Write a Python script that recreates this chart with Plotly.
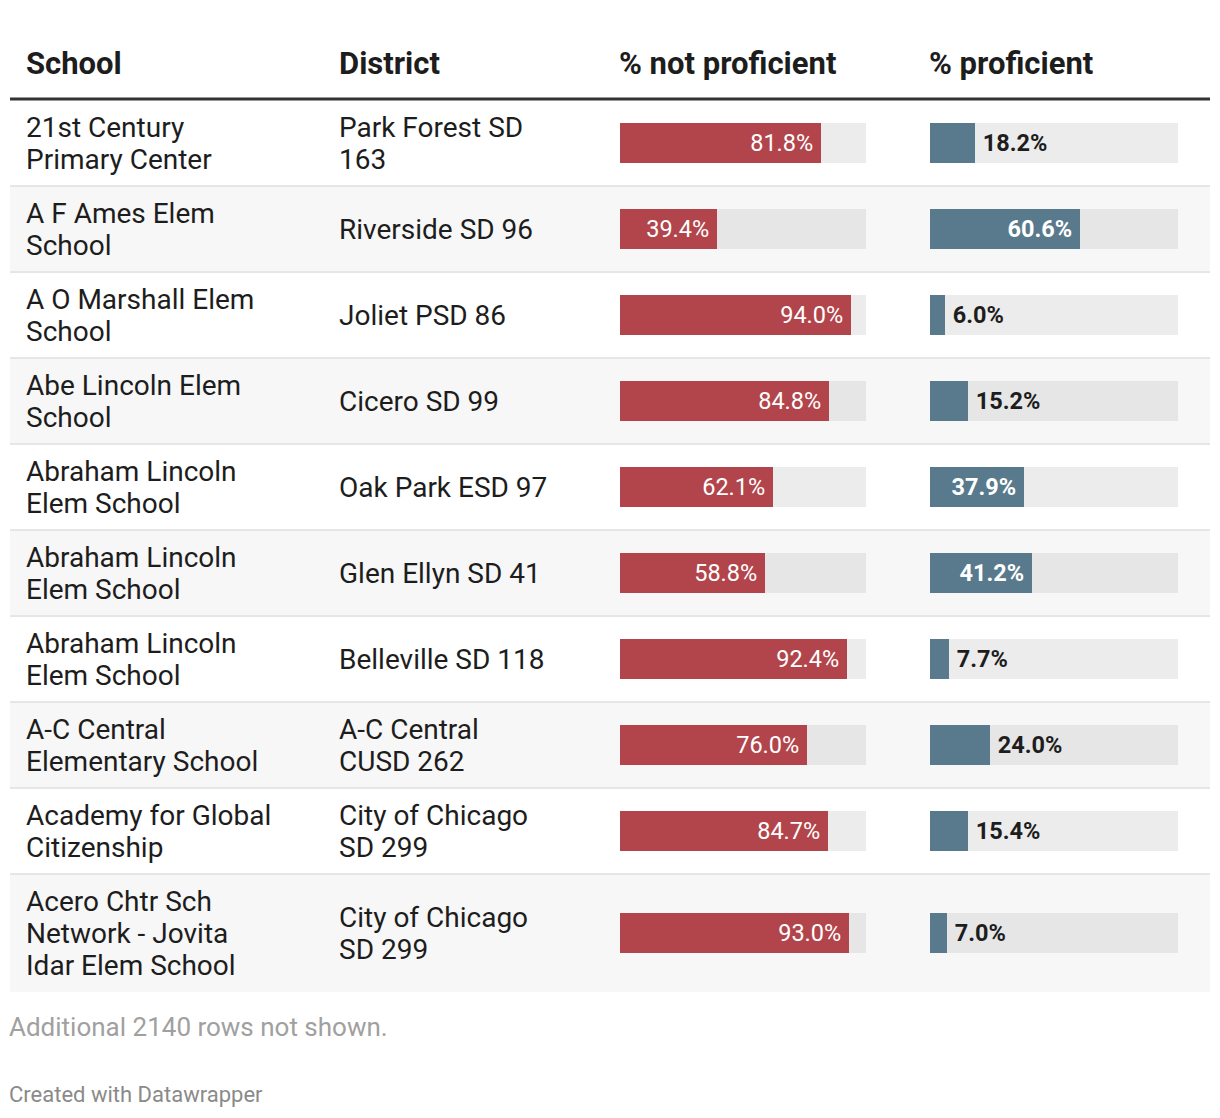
import plotly.graph_objects as go

# ---------------- data ----------------
schools = [
    "21st Century\nPrimary Center",
    "A F Ames Elem\nSchool",
    "A O Marshall Elem\nSchool",
    "Abe Lincoln Elem\nSchool",
    "Abraham Lincoln\nElem School",
    "Abraham Lincoln\nElem School",
    "Abraham Lincoln\nElem School",
    "A-C Central\nElementary School",
    "Academy for Global\nCitizenship",
    "Acero Chtr Sch\nNetwork - Jovita\nIdar Elem School",
]
districts = [
    "Park Forest SD\n163",
    "Riverside SD 96",
    "Joliet PSD 86",
    "Cicero SD 99",
    "Oak Park ESD 97",
    "Glen Ellyn SD 41",
    "Belleville SD 118",
    "A-C Central\nCUSD 262",
    "City of Chicago\nSD 299",
    "City of Chicago\nSD 299",
]
not_proficient = [81.8, 39.4, 94.0, 84.8, 62.1, 58.8, 92.4, 76.0, 84.7, 93.0]
proficient = [18.2, 60.6, 6.0, 15.2, 37.9, 41.2, 7.7, 24.0, 15.4, 7.0]
headers = ["School", "District", "% not proficient", "% proficient"]
footer_note = "Additional 2140 rows not shown."
credit = "Created with Datawrapper"

# ---------------- layout helpers ----------------
W, H = 1220, 1118
RED = "#b2454b"
BLUE = "#587a8c"
TXT = "#1d1d1d"
LEFT, RIGHT = 10, 1210
TOP = 100  # table body starts under header rule
LINE = 32
THIN = "\u2009"

def px(x):
    return x / W

bounds = []
y = TOP
for s, d in zip(schools, districts):
    n = max(s.count("\n"), d.count("\n")) + 1
    h = max(86, 22 + LINE * n)
    bounds.append((y, y + h))
    y += h
centers = [(a + b) / 2 for a, b in bounds]

fig = go.Figure()

track_colors = ["#ececec" if i % 2 == 0 else "#e6e6e6" for i in range(len(centers))]
for xa in ["x", "x2"]:
    fig.add_trace(go.Bar(
        x=[100] * len(centers), y=centers, orientation="h", width=40,
        marker=dict(color=track_colors, line=dict(width=0)),
        xaxis=xa, yaxis="y", hoverinfo="skip", showlegend=False,
    ))

fig.add_trace(go.Bar(
    x=not_proficient, y=centers, orientation="h", width=40,
    marker=dict(color=RED, line=dict(width=0)),
    text=[f"{v:.1f}%{THIN}" for v in not_proficient],
    textposition="inside", insidetextanchor="end",
    insidetextfont=dict(family="Roboto", size=23.5, color="white"),
    constraintext="none", cliponaxis=False,
    xaxis="x", yaxis="y", hoverinfo="skip", showlegend=False,
))

pos = ["inside" if v >= 30 else "outside" for v in proficient]
fig.add_trace(go.Bar(
    x=proficient, y=centers, orientation="h", width=40,
    marker=dict(color=BLUE, line=dict(width=0)),
    text=[f"<b>{v:.1f}%</b>{THIN}" if p == "inside" else f"{THIN}<b>{v:.1f}%</b>"
          for v, p in zip(proficient, pos)],
    textposition=pos, insidetextanchor="end",
    insidetextfont=dict(family="Roboto", size=23.5, color="white"),
    outsidetextfont=dict(family="Roboto", size=23.5, color=TXT),
    constraintext="none", cliponaxis=False,
    xaxis="x2", yaxis="y", hoverinfo="skip", showlegend=False,
))

shapes = []
for i, (a, b) in enumerate(bounds):
    if i % 2 == 1:
        shapes.append(dict(type="rect", xref="paper", yref="y", x0=px(LEFT), x1=px(RIGHT),
                           y0=a, y1=b, fillcolor="#f7f7f7", line=dict(width=0), layer="below"))
for i, (a, b) in enumerate(bounds[:-1]):
    shapes.append(dict(type="line", xref="paper", yref="y", x0=px(LEFT), x1=px(RIGHT),
                       y0=b, y1=b, line=dict(color="#e6e6e6", width=2), layer="below"))
shapes.append(dict(type="line", xref="paper", yref="y", x0=px(LEFT), x1=px(RIGHT),
                   y0=TOP - 1, y1=TOP - 1, line=dict(color="#333333", width=3)))

annotations = []

def add_text(t, x, yc, size, color, bold=False):
    annotations.append(dict(text=f"<b>{t}</b>" if bold else t, x=px(x - 3), xref="paper",
                            y=yc, yref="y", xanchor="left", yanchor="middle", showarrow=False,
                            font=dict(family="Roboto", size=size, color=color)))

col_x = [27, 340, 620, 930]
for hx, ht in zip(col_x, headers):
    add_text(ht, hx, 63, 31, TXT, bold=True)
for c, s, d in zip(centers, schools, districts):
    for cx, t in [(27, s), (340, d)]:
        lines = t.split("\n")
        n = len(lines)
        for k, ln in enumerate(lines):
            add_text(ln, cx, c + (k - (n - 1) / 2) * LINE, 28, TXT)
add_text(footer_note, 10, 1027, 26, "#a0a0a0")
add_text(credit, 10, 1094, 22, "#8a8a8a")

fig.update_layout(
    width=W, height=H, margin=dict(l=0, r=0, t=0, b=0),
    paper_bgcolor="white", plot_bgcolor="rgba(0,0,0,0)",
    barmode="overlay", bargap=0,
    xaxis=dict(domain=[px(620), px(866)], range=[0, 100], visible=False, fixedrange=True),
    xaxis2=dict(domain=[px(930), px(1178)], range=[0, 100], visible=False, fixedrange=True),
    yaxis=dict(domain=[0, 1], range=[H, 0], visible=False, fixedrange=True),
    shapes=shapes, annotations=annotations,
    font=dict(family="Roboto"),
)

fig.write_html("out.html", config={"displayModeBar": False},
               post_script="document.body.style.margin='0';document.body.style.overflow='hidden';")
